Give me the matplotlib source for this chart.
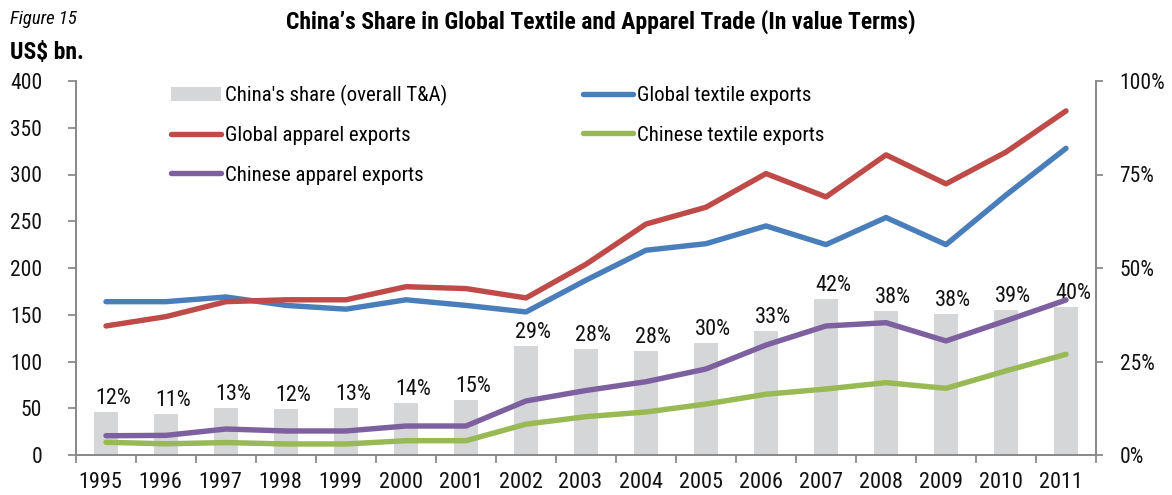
import matplotlib
matplotlib.use("Agg")
import matplotlib.pyplot as plt
import numpy as np
from matplotlib.transforms import ScaledTranslation
from matplotlib.patches import Patch
from matplotlib.lines import Line2D

plt.rcParams['font.family'] = ['Roboto Condensed', 'Archivo Narrow', 'Liberation Sans', 'DejaVu Sans']

years = ['1995', '1996', '1997', '1998', '1999', '2000', '2001', '2002', '2003',
         '2004', '2005', '2006', '2007', '2008', '2009', '2010', '2011']
china_share = [11.6, 11.0, 12.7, 12.3, 12.6, 14.0, 14.6, 29.2, 28.3, 27.8, 30.0,
               33.2, 41.6, 38.5, 37.6, 38.8, 39.7]
global_textile = [164, 164, 169, 160, 156, 166, 160, 153, 187, 219, 226, 245,
                  225, 254, 225, 278, 328]
global_apparel = [138, 148, 164, 166, 166, 180, 178, 168, 204, 247, 265, 301,
                  276, 321, 290, 324, 368]
chinese_textile = [13.6, 12.0, 13.3, 11.8, 11.8, 15.3, 15.3, 33, 41, 46, 54.5,
                   65, 70.6, 77.4, 71.3, 90, 107.7]
chinese_apparel = [20.6, 21, 27.8, 25.7, 25.7, 31, 31, 57.8, 69, 78.4, 92,
                   117.6, 138, 141.5, 122, 143.6, 165.8]
left_ticks = [0, 50, 100, 150, 200, 250, 300, 350, 400]
right_ticks = [0, 25, 50, 75, 100]

C_BAR = '#d5d6d8'
C_BLUE = '#4a7ebb'
C_RED = '#be4b48'
C_GREEN = '#98b954'
C_PURPLE = '#7d60a0'
C_SPINE = '#8a8a8a'
C_TXT = '#111111'

W, H = 1172, 495
fig = plt.figure(figsize=(W / 100, H / 100), dpi=100)
ax = fig.add_axes([76 / W, 40 / H, 1020 / W, 374 / H])
ax2 = ax.twinx()

x = np.arange(len(years))
ax2.bar(x, china_share, width=0.41, color=C_BAR, zorder=1)
for xi, v in zip(x, china_share):
    ax2.annotate(f"{round(v)}%", (xi, v), xytext=(7, 3), textcoords='offset pixels',
                 ha='center', va='bottom', fontsize=16, color=C_TXT)

lw = 3.9
kw = dict(solid_capstyle='round', solid_joinstyle='round', lw=lw)
ax.plot(x, global_textile, color=C_BLUE, **kw)
ax.plot(x, global_apparel, color=C_RED, **kw)
ax.plot(x, chinese_textile, color=C_GREEN, **kw)
ax.plot(x, chinese_apparel, color=C_PURPLE, **kw)

ax.set_zorder(ax2.get_zorder() + 1)
ax.patch.set_visible(False)

ax.set_xlim(-0.5, len(years) - 0.5)
ax.set_ylim(0, 400)
ax2.set_ylim(0, 100)

for a in (ax, ax2):
    a.spines['top'].set_visible(False)
    for s in ('left', 'right', 'bottom'):
        a.spines[s].set_color(C_SPINE)
        a.spines[s].set_linewidth(1.3)

ax.set_yticks(left_ticks)
ax.set_yticklabels([str(t) for t in left_ticks])
ax.tick_params(axis='y', direction='out', length=5.8, width=1.3, color=C_SPINE,
               pad=18.5, labelsize=15.5, labelcolor=C_TXT)
ax2.set_yticks(right_ticks)
ax2.set_yticklabels([f"{t}%" for t in right_ticks])
ax2.tick_params(axis='y', direction='out', length=5, width=1.3, color=C_SPINE,
                pad=12, labelsize=15.5, labelcolor=C_TXT)

ax.set_xticks(x)
ax.set_xticklabels(years)
ax.set_xticks(np.arange(-0.5, len(years), 1.0), minor=True)
ax.tick_params(axis='x', which='major', length=0, pad=12.5, labelsize=16, labelcolor=C_TXT)
ax.tick_params(axis='x', which='minor', direction='out', length=5.5, width=1.3, color=C_SPINE)
ax2.tick_params(axis='x', which='both', length=0)
off = ScaledTranslation(-5.5 / 100, 0, fig.dpi_scale_trans)
for lab in ax.get_xticklabels():
    lab.set_transform(lab.get_transform() + off)

handles = [
    Patch(facecolor=C_BAR, edgecolor='none', label="China's share (overall T&A)"),
    Line2D([], [], color=C_RED, lw=lw, solid_capstyle='round', label='Global apparel exports'),
    Line2D([], [], color=C_PURPLE, lw=lw, solid_capstyle='round', label='Chinese apparel exports'),
    Line2D([], [], color=C_BLUE, lw=lw, solid_capstyle='round', label='Global textile exports'),
    Line2D([], [], color=C_GREEN, lw=lw, solid_capstyle='round', label='Chinese textile exports'),
]
ax.legend(handles=handles, ncol=2, loc='upper left', bbox_to_anchor=(0.093, 0.99),
          frameon=False, fontsize=15, borderpad=0, borderaxespad=0,
          handlelength=2.4, handletextpad=0.2, labelspacing=0.98, columnspacing=6.5)

fig.text(10 / W, 1 - 19 / H, 'Figure 15', fontsize=13.5, style='italic', va='center', ha='left')
fig.text(10 / W, 1 - 52 / H, 'US$ bn.', fontsize=17, weight='bold', va='center', ha='left')
fig.text(601 / W, 1 - 22 / H, "China\u2019s Share in Global Textile and Apparel Trade (In value Terms)",
         fontsize=17, weight='bold', va='center', ha='center')

fig.savefig('out.png', dpi=100)
